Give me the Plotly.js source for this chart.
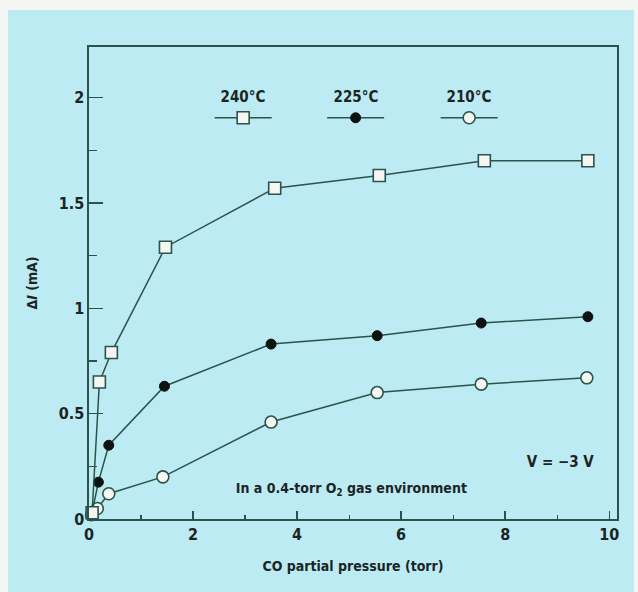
<!DOCTYPE html>
<html>
<head>
<meta charset="utf-8">
<script src="https://cdn.plot.ly/plotly-3.0.1.min.js"></script>
<style>
  html, body { margin: 0; padding: 0; background: #f4f6f4; width: 638px; height: 592px; overflow: hidden; }
  #frame { position: absolute; left: 8px; top: 10px; width: 626px; height: 582px; border-left: 1px solid #b8c4c4; border-top: 1px solid #b8c4c4; box-sizing: border-box; }
  #chart { position: absolute; left: 8px; top: 10px; width: 626px; height: 582px; }
  #chart text { font-stretch: condensed !important; font-weight: bold !important; }
</style>
</head>
<body>
<div id="frame"></div>
<div id="chart"></div>
<script>
// ---- data ----
const seriesNames = ["240°C", "225°C", "210°C"];
const x240 = [0.06, 0.2, 0.43, 1.47, 3.57, 5.58, 7.6, 9.59];
const y240 = [0.03, 0.65, 0.79, 1.29, 1.57, 1.63, 1.70, 1.70];
const x225 = [0.05, 0.18, 0.38, 1.45, 3.5, 5.54, 7.54, 9.59];
const y225 = [0.02, 0.175, 0.35, 0.63, 0.83, 0.87, 0.93, 0.96];
const x210 = [0.05, 0.16, 0.38, 1.42, 3.5, 5.54, 7.54, 9.57];
const y210 = [0.02, 0.05, 0.12, 0.20, 0.46, 0.60, 0.64, 0.67];
const xTickVals = [0, 2, 4, 6, 8, 10];
const xTickText = ["0", "2", "4", "6", "8", "10"];
const yTickVals = [0, 0.5, 1, 1.5, 2];
const yTickText = ["0", "0.5", "1", "1.5", "2"];

// ---- styles ----
const BG = "#bcebf3";
const LINE = "#2c524c";
const INK = "#1c2424";
const FONT = "'DejaVu Sans Condensed', 'DejaVu Sans', sans-serif";
const OPEN_FILL = "#f3f7f0";

const markerStyles = [
  {symbol: "square", size: 12, color: OPEN_FILL, line: {color: LINE, width: 1.6}},
  {symbol: "circle", size: 10, color: "#0e1210", line: {color: "#0e1210", width: 1}},
  {symbol: "circle", size: 12, color: OPEN_FILL, line: {color: LINE, width: 1.6}}
];
const xs = [x240, x225, x210];
const ys = [y240, y225, y210];

const traces = [];
// draw 210 & 225 first, 240 squares on top
[2, 1, 0].forEach(i => {
  traces.push({
    type: "scatter", mode: "lines+markers",
    x: xs[i], y: ys[i], name: seriesNames[i],
    line: {color: LINE, width: 1.5},
    marker: markerStyles[i],
    showlegend: false, hoverinfo: "skip",
    cliponaxis: false
  });
});

// legend keys drawn on an overlay axis [0,1]
const legendKeyX = [0.292, 0.505, 0.72];
const legendHalf = 0.054;
const legendKeyY = 0.85;
const legendTextY = 0.895;
const annotations = [];
for (let i = 0; i < 3; i++) {
  traces.push({
    type: "scatter", mode: "lines", xaxis: "x2", yaxis: "y2",
    x: [legendKeyX[i] - legendHalf, legendKeyX[i] + legendHalf],
    y: [legendKeyY, legendKeyY],
    line: {color: LINE, width: 1.5}, showlegend: false, hoverinfo: "skip"
  });
  traces.push({
    type: "scatter", mode: "markers", xaxis: "x2", yaxis: "y2",
    x: [legendKeyX[i]], y: [legendKeyY],
    marker: markerStyles[i], showlegend: false, hoverinfo: "skip"
  });
  annotations.push({
    xref: "x2", yref: "y2", x: legendKeyX[i], y: legendTextY,
    text: seriesNames[i], showarrow: false, xanchor: "center", yanchor: "middle",
    font: {family: FONT, size: 15, color: INK}
  });
}
annotations.push({
  xref: "paper", yref: "paper", x: 0.498, y: 0.064, xanchor: "center", yanchor: "middle",
  text: "In a 0.4-torr O<sub>2</sub> gas environment", showarrow: false,
  font: {family: FONT, size: 14, color: INK}
});
annotations.push({
  xref: "paper", yref: "paper", x: 0.893, y: 0.121, xanchor: "center", yanchor: "middle",
  text: "V = \u22123 V", showarrow: false,
  font: {family: FONT, size: 15, color: INK}
});

const layout = {
  width: 626, height: 582,
  margin: {l: 81, r: 17, t: 37, b: 73},
  paper_bgcolor: BG, plot_bgcolor: BG,
  showlegend: false,
  font: {family: FONT, color: INK, size: 15},
  xaxis: {
    range: [0, 10.15], showgrid: false, zeroline: false,
    showline: true, linecolor: LINE, linewidth: 1.6, mirror: true,
    ticks: "inside", ticklen: 8, tickwidth: 1.4, tickcolor: LINE,
    tickvals: xTickVals, ticktext: xTickText,
    tickfont: {family: FONT, size: 16, color: INK},
    minor: {dtick: 1, ticks: "inside", ticklen: 4, tickwidth: 1.2, tickcolor: LINE, tick0: 0},
    title: {text: "CO partial pressure (torr)", font: {family: FONT, size: 14, color: INK}, standoff: 18}
  },
  yaxis: {
    range: [0, 2.24], showgrid: false, zeroline: false,
    showline: true, linecolor: LINE, linewidth: 1.6, mirror: true,
    ticks: "inside", ticklen: 14, tickwidth: 1.4, tickcolor: LINE,
    tickvals: yTickVals, ticktext: yTickText,
    tickfont: {family: FONT, size: 16, color: INK},
    minor: {dtick: 0.25, tick0: 0, ticks: "inside", ticklen: 8, tickwidth: 1.2, tickcolor: LINE},
    title: {text: "\u0394<i>I</i> (mA)", font: {family: FONT, size: 14, color: INK}, standoff: 20}
  },
  xaxis2: {range: [0, 1], overlaying: "x", visible: false, fixedrange: true},
  yaxis2: {range: [0, 1], overlaying: "y", visible: false, fixedrange: true},
  annotations: annotations
};

Plotly.newPlot("chart", traces, layout, {displayModeBar: false, staticPlot: true});
</script>
</body>
</html>
